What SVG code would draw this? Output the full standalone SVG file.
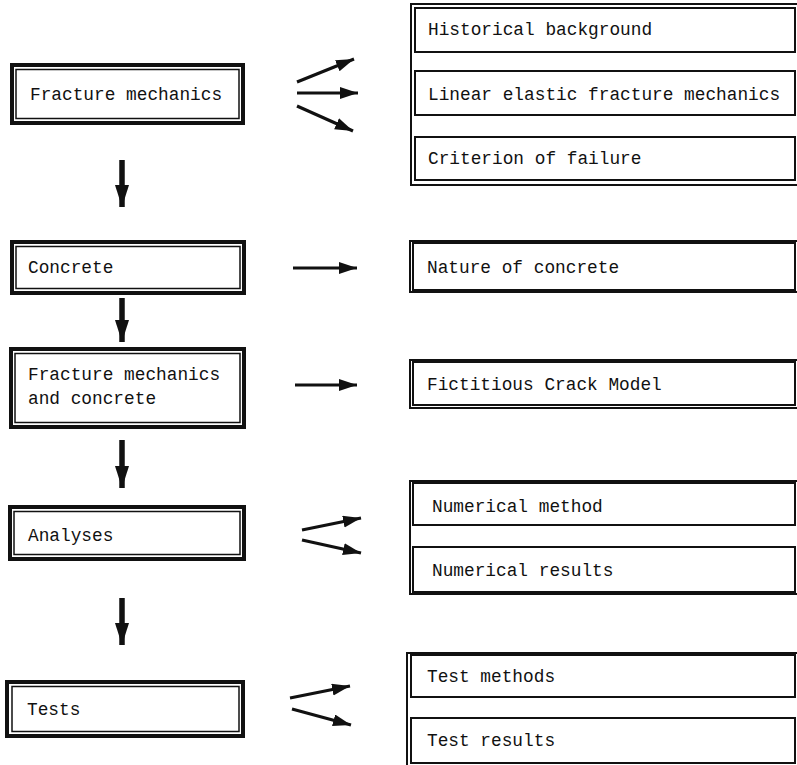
<svg xmlns="http://www.w3.org/2000/svg" width="797" height="765" viewBox="0 0 797 765">
<style>
  .t { font-family: "Liberation Mono", "Courier New", monospace; font-size: 17.8px; fill: #111; }
  .outer { fill: none; stroke: #111; stroke-width: 4; }
  .inner { fill: none; stroke: #111; stroke-width: 1.5; }
  .frame { fill: none; stroke: #111; stroke-width: 2; }
  .sub { fill: #fff; stroke: #111; stroke-width: 2; }
  .thin { stroke: #111; stroke-width: 3.2; fill: none; marker-end: url(#ah); }
  .thick { stroke: #111; stroke-width: 5.5; fill: none; marker-end: url(#dh); }
</style>
<defs>
  <marker id="ah" markerUnits="userSpaceOnUse" markerWidth="19" markerHeight="13" refX="18" refY="6" orient="auto">
    <path d="M0,0 L18,6 L0,12 z" fill="#111"/>
  </marker>
  <marker id="dh" markerUnits="userSpaceOnUse" markerWidth="23" markerHeight="15" refX="22" refY="7" orient="auto">
    <path d="M0,0 L22,7 L0,14 z" fill="#111"/>
  </marker>
</defs>
<rect width="797" height="765" fill="#fff"/>

<g id="n-fracture">
  <rect class="outer" x="12" y="65" width="231" height="58"/>
  <rect class="inner" x="16" y="69.5" width="223" height="49"/>
  <text class="t" x="30" y="100">Fracture mechanics</text>
</g>
<g id="n-concrete">
  <rect class="outer" x="12" y="242" width="232" height="51"/>
  <rect class="inner" x="16" y="246.5" width="224" height="42"/>
  <text class="t" x="28" y="273">Concrete</text>
</g>
<g id="n-fmc">
  <rect class="outer" x="11" y="349" width="233" height="78"/>
  <rect class="inner" x="15" y="353.5" width="225" height="69"/>
  <text class="t" x="28" y="380">Fracture mechanics</text>
  <text class="t" x="28" y="404">and concrete</text>
</g>
<g id="n-analyses">
  <rect class="outer" x="10" y="507" width="234" height="52"/>
  <rect class="inner" x="14" y="511.5" width="226" height="43"/>
  <text class="t" x="28" y="541">Analyses</text>
</g>
<g id="n-tests">
  <rect class="outer" x="7" y="682" width="236" height="54"/>
  <rect class="inner" x="12" y="686.5" width="227" height="45"/>
  <text class="t" x="27" y="715">Tests</text>
</g>

<g id="g-fracture-topics">
  <path class="frame" d="M797,4 H411 V185 H797"/>
  <g id="n-historical">
    <rect class="sub" x="415" y="8" width="380" height="44"/>
    <text class="t" x="428" y="35">Historical background</text>
  </g>
  <g id="n-lefm">
    <rect class="sub" x="415" y="71" width="380" height="44"/>
    <text class="t" x="428" y="100">Linear elastic fracture mechanics</text>
  </g>
  <g id="n-criterion">
    <rect class="sub" x="415" y="137" width="380" height="43"/>
    <text class="t" x="428" y="164">Criterion of failure</text>
  </g>
</g>
<g id="n-nature">
  <path class="frame" d="M797,241 H410 V292 H797"/>
  <rect class="sub" x="413" y="243" width="382" height="47"/>
  <text class="t" x="427" y="273">Nature of concrete</text>
</g>
<g id="n-fcm">
  <path class="frame" d="M797,360 H410 V408 H797"/>
  <rect class="sub" x="413" y="362" width="382" height="43"/>
  <text class="t" x="427" y="390">Fictitious Crack Model</text>
</g>
<g id="g-analyses-topics">
  <path class="frame" d="M797,481 H410 V594 H797"/>
  <g id="n-num-method">
    <rect class="sub" x="413" y="483" width="382" height="42"/>
    <text class="t" x="432" y="512">Numerical method</text>
  </g>
  <g id="n-num-results">
    <rect class="sub" x="413" y="547" width="382" height="45"/>
    <text class="t" x="432" y="576">Numerical results</text>
  </g>
</g>
<g id="g-tests-topics">
  <path class="frame" d="M797,653 H407 V765"/>
  <g id="n-test-methods">
    <rect class="sub" x="411" y="655" width="384" height="42"/>
    <text class="t" x="427" y="682">Test methods</text>
  </g>
  <g id="n-test-results">
    <rect class="sub" x="411" y="718" width="384" height="45"/>
    <text class="t" x="427" y="746">Test results</text>
  </g>
</g>

<g id="connectors">
  <line class="thin" x1="297" y1="82" x2="354" y2="59"/>
  <line class="thin" x1="297" y1="93" x2="358" y2="93"/>
  <line class="thin" x1="297" y1="106" x2="353" y2="131"/>
  <line class="thin" x1="293" y1="268" x2="357" y2="268"/>
  <line class="thin" x1="295" y1="385" x2="357" y2="385"/>
  <line class="thin" x1="302" y1="530" x2="361" y2="518"/>
  <line class="thin" x1="302" y1="540" x2="361" y2="553"/>
  <line class="thin" x1="290" y1="698" x2="350" y2="686"/>
  <line class="thin" x1="292" y1="709" x2="351" y2="725"/>
  <line class="thick" x1="122" y1="160" x2="122" y2="207"/>
  <line class="thick" x1="122" y1="298" x2="122" y2="342"/>
  <line class="thick" x1="122" y1="440" x2="122" y2="488"/>
  <line class="thick" x1="122" y1="598" x2="122" y2="645"/>
</g>
</svg>
